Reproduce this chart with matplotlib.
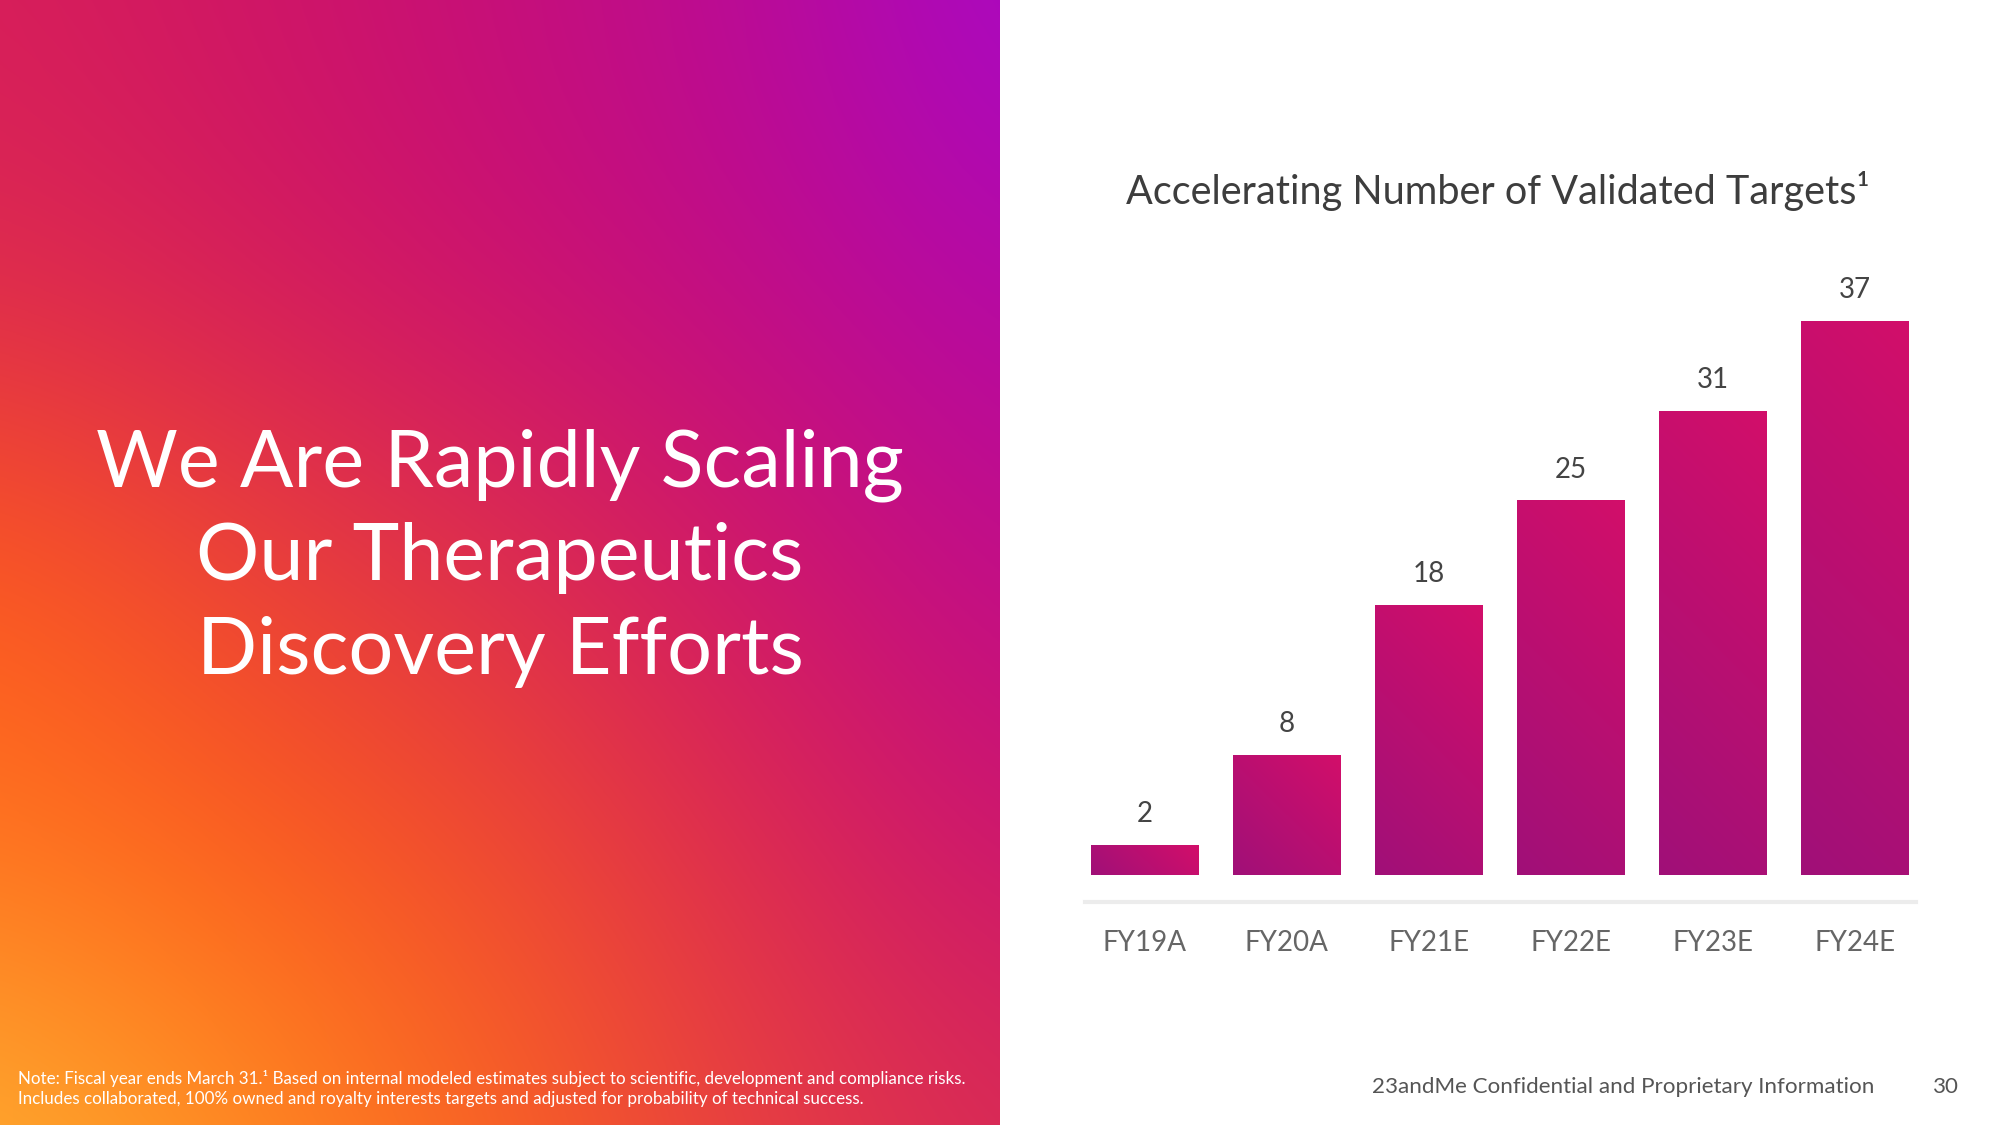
import numpy as np
import matplotlib.pyplot as plt
from matplotlib.colors import LinearSegmentedColormap, to_rgb

plt.rcParams['font.family'] = ['Lato', 'DejaVu Sans']

# chart data
years = ['FY19A', 'FY20A', 'FY21E', 'FY22E', 'FY23E', 'FY24E']
targets = [2, 8, 18, 25, 31, 37]

# slide text
headline = ['We Are Rapidly Scaling', 'Our Therapeutics', 'Discovery Efforts']
chart_title = 'Accelerating Number of Validated Targets\u00b9'
note_lines = [
    'Note: Fiscal year ends March 31.\u00b9 Based on internal modeled estimates subject to scientific, development and compliance risks.',
    'Includes collaborated, 100% owned and royalty interests targets and adjusted for probability of technical success.',
]
footer = '23andMe Confidential and Proprietary Information'
page_no = '30'

W, H = 2000, 1125
fig = plt.figure(figsize=(20, 11.25), dpi=100)
fig.patch.set_facecolor('white')

# left panel: smooth colour wash (rows top -> bottom, cols left -> right)
wash = [
    ['#d81e5a', '#cf1566', '#c60f7a', '#ba0c96', '#a808c8'],
    ['#dc2a50', '#d41c5c', '#cc1070', '#c00c88', '#b40aa8'],
    ['#ff5a1c', '#ea4238', '#dc2e4e', '#d01668', '#c00c8c'],
    ['#ff7420', '#ff5c18', '#f04a30', '#dc2a50', '#cc1470'],
    ['#ffb030', '#ff8e22', '#fb6420', '#e84040', '#d82a56'],
]
wash_rgb = np.array([[to_rgb(c) for c in row] for row in wash])
bg = fig.add_axes([0, 0, 1000 / W, 1])
bg.imshow(wash_rgb, extent=(-0.125, 1.125, -0.125, 1.125), aspect='auto',
          interpolation='bicubic', origin='upper')
bg.set_xlim(0, 1)
bg.set_ylim(0, 1)
bg.set_axis_off()

for i, line in enumerate(headline):
    fig.text(500 / W, 1 - (486 + 94 * i) / H, line, ha='center', va='baseline',
             fontsize=57, color='white')

for i, line in enumerate(note_lines):
    fig.text(18 / W, 1 - (1084 + 20 * i) / H, line, ha='left', va='baseline',
             fontsize=12.25, color='white')

# bar chart
ax = fig.add_axes([1085 / W, 1 - 902 / H, 831 / W, (902 - 276.6) / H])
xlim = (-0.42, 5.43)
ylim = (-1.8, 40)
bars = ax.bar(range(len(years)), targets, width=0.755, color='none', linewidth=0)
ax.set_xlim(*xlim)
ax.set_ylim(*ylim)

bar_cmap = LinearSegmentedColormap.from_list('bar', ['#a01078', '#d20e6a'])
ppx = 831 / (xlim[1] - xlim[0])
ppy = (902 - 276.6) / (ylim[1] - ylim[0])
for b in bars:
    x0, w, h = b.get_x(), b.get_width(), b.get_height()
    wpx, hpx = w * ppx, h * ppy
    nx, ny = max(int(wpx), 2), max(int(hpx), 2)
    u = np.linspace(0, wpx, nx)[None, :]
    v = np.linspace(hpx, 0, ny)[:, None]
    t = (u + v) / (wpx + hpx)
    ax.imshow(t, cmap=bar_cmap, vmin=0, vmax=1, extent=(x0, x0 + w, 0, h),
              aspect='auto', origin='upper', interpolation='bilinear', zorder=2)

for i, v in enumerate(targets):
    ax.text(i, v + 2.1, str(v), ha='center', va='center', fontsize=20, color='#444444')

ax.set_xlim(*xlim)
ax.set_ylim(*ylim)
for s in ['top', 'right', 'left']:
    ax.spines[s].set_visible(False)
ax.spines['bottom'].set_color('#ececec')
ax.spines['bottom'].set_linewidth(3)
ax.set_xticks(range(len(years)), years)
ax.set_yticks([])
ax.tick_params(axis='x', length=0, pad=20, labelsize=20, labelcolor='#666666')
ax.set_facecolor('none')

fig.text(1498 / W, 1 - 204 / H, chart_title, ha='center', va='baseline',
         fontsize=28.5, color='#3d3d3d')

fig.text(1372 / W, 1 - 1093 / H, footer, ha='left', va='baseline',
         fontsize=16.1, color='#555555')
fig.text(1946 / W, 1 - 1093 / H, page_no, ha='center', va='baseline',
         fontsize=16.1, color='#555555')

fig.savefig('out.png', dpi=100)
